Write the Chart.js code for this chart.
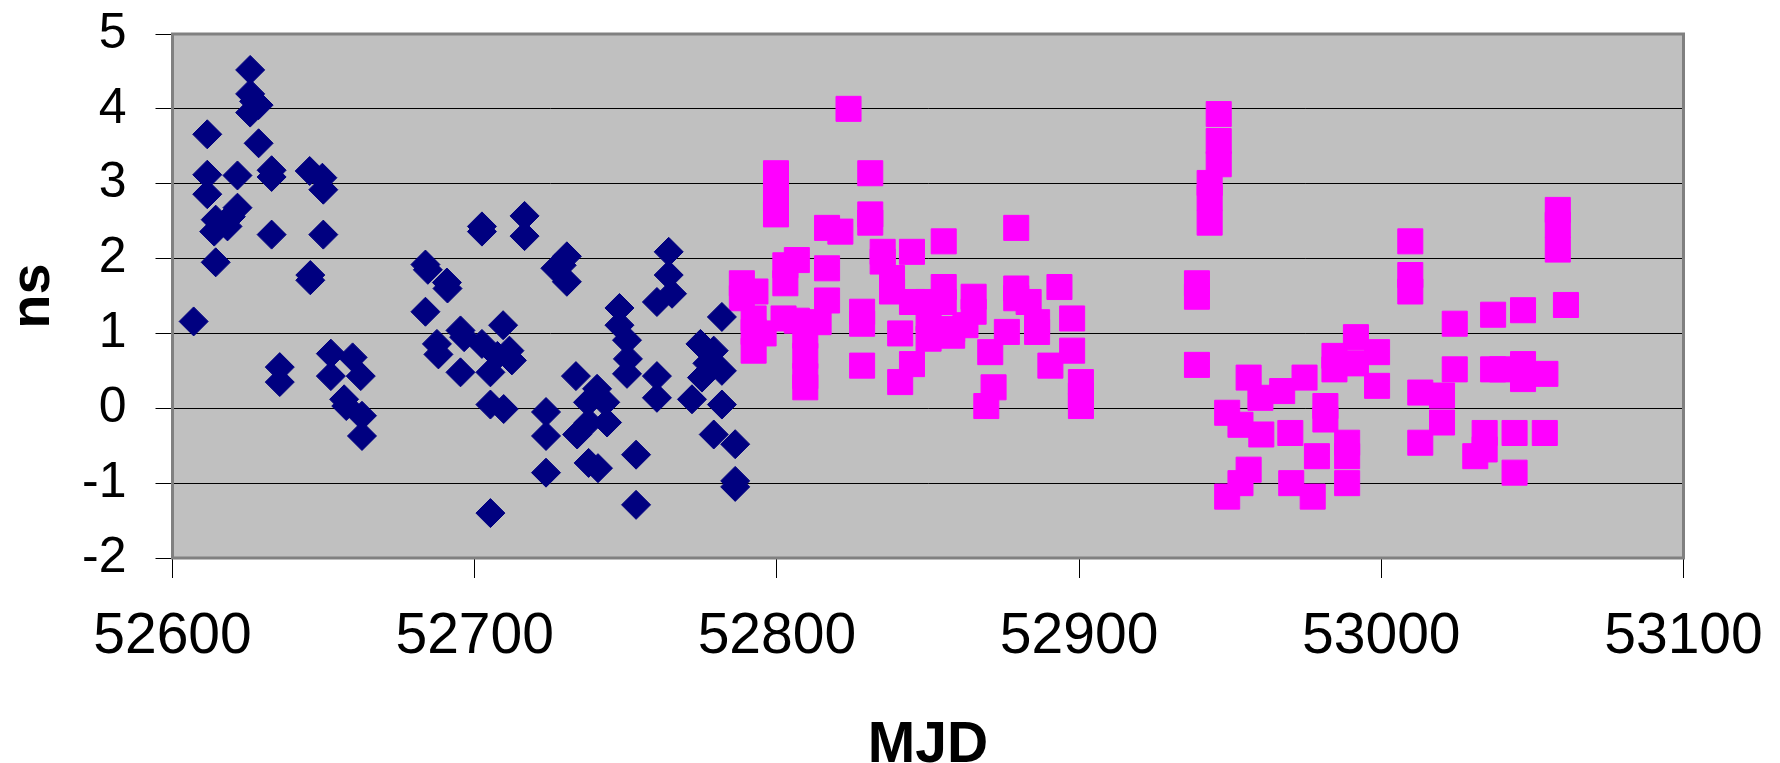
<!DOCTYPE html>
<html>
<head>
<meta charset="utf-8">
<script src="https://cdn.jsdelivr.net/npm/chart.js@4.4.1/dist/chart.umd.min.js"></script>
<style>
  html, body { margin: 0; padding: 0; background: #fff; }
  canvas { display: block; }
</style>
</head>
<body>
<canvas id="myChart" width="1780" height="763"></canvas>
<script>
const xTicks = [52600, 52700, 52800, 52900, 53000, 53100];
const yTicks = [-2, -1, 0, 1, 2, 3, 4, 5];

// NAVY DIAMONDS
const navyMjd = [
  52607, 52611.5, 52611.5, 52611.5, 52614.3, 52613.8, 52618.2, 52621.5, 52619.3, 52614.3,
  52621.5, 52625.7, 52625.7, 52628.5, 52625.7, 52627, 52628.5, 52632.8, 52632.8, 52632.8,
  52645.4, 52649.6, 52649.9, 52649.9, 52645.6, 52645.6, 52635.5, 52635.5, 52652.4, 52652.4,
  52659.6, 52662.3, 52656.8, 52657.5, 52662.7, 52662.7,
  52683.7, 52684.5, 52683.7, 52690.8, 52691, 52687.5, 52688, 52695.3, 52696.5, 52695.3,
  52702.4, 52702.4, 52716.5, 52716.5, 52702.4, 52705.2, 52709.4, 52711.5, 52712.3, 52707.5,
  52705.2, 52709.6, 52705.2, 52726.7, 52730.5, 52730.5, 52728.8, 52723.6, 52723.6, 52723.6,
  52733.5, 52740.5, 52743.2, 52737.5, 52733.9, 52737.7, 52743.8, 52737.7, 52740.8, 52747.9,
  52747.9, 52750.4, 52750.7, 52750.4, 52753.4, 52753.4, 52760.3, 52764.2, 52764.2, 52760.3,
  52760.3, 52765.3, 52781.8, 52774.7, 52779.1, 52781.8, 52775.2, 52771.9, 52777, 52781.8,
  52779.1, 52786.2, 52786.2, 52786.2
];
const navyNs = [
  1.16, 3.66, 3.12, 2.86, 2.52, 2.36, 2.43, 2.68, 2.56, 1.95,
  3.11, 4.52, 4.2, 4.05, 3.95, 4.1, 3.54, 3.18, 3.09, 2.32,
  3.17, 3.08, 2.92, 2.32, 1.78, 1.71, 0.55, 0.35, 0.73, 0.43,
  0.68, 0.43, 0.12, 0.03, -0.1, -0.37,
  1.92, 1.85, 1.29, 1.68, 1.6, 0.86, 0.72, 1.04, 0.95, 0.48,
  2.43, 2.36, 2.57, 2.3, 0.86, 0.48, 1.11, 0.77, 0.64, 0.7,
  0.05, -0.01, -1.4, 1.87, 2.03, 1.69, 1.91, -0.05, -0.37, -0.86,
  0.43, 0.26, 0.08, 0.08, -0.35, -0.19, -0.19, -0.73, -0.8, 1.34,
  1.11, 0.91, 0.66, 0.46, -0.62, -1.29, 1.42, 2.09, 1.78, 0.43,
  0.14, 1.53, 1.22, 0.86, 0.77, 0.5, 0.41, 0.12, 0.6, 0.05,
  -0.35, -0.48, -0.97, -1.05
];

// MAGENTA SQUARES
const pinkMjd = [
  52823.7, 52799.7, 52799.7, 52799.7, 52830.9, 52830.9, 52830.9, 52816.6, 52821, 52835,
  52835, 52844.7, 52838.1, 52838.1, 52788.4, 52788.4, 52792.9, 52806.6, 52802.8, 52802.8,
  52816.6, 52816.6, 52792.3, 52792.3, 52795.6, 52792.3, 52802.2, 52806.6, 52813.8, 52809.4,
  52809.4, 52809.4, 52809.4, 52828.2, 52828.2, 52828.2, 52844.7, 52840.8, 52840.8, 52844.7,
  52855.2, 52855.2, 52855.2, 52865.1, 52865.1, 52850.2, 52850.2, 52850.2, 52858, 52858,
  52862.4, 52870.6, 52876.1, 52871.7, 52869.3, 52879.2, 52879.2, 52879.2, 52883.3, 52886.1,
  52886.1, 52893.5, 52897.7, 52897.7, 52890.5, 52900.6, 52900.6, 52900.6,
  52946.2, 52946.2, 52946.2, 52943.2, 52943.2, 52943.2, 52939, 52939, 52939, 53009.6,
  53009.6, 53009.6, 52949, 52953.4, 52956.1, 52960, 52960.3, 52967.2, 52969.9, 52974.6,
  52981.5, 52981.5, 52978.7, 52988.7, 52988.7, 52984.5, 52984.5, 52991.6, 52991.6, 52998.6,
  52998.6, 52956.1, 52953.4, 52949, 52970.2, 52977.3, 52988.7, 53012.9, 53012.9,
  53020.1, 53020.1, 53024.3, 53024.3, 53034.2, 53034.2, 53031.1, 53037, 53037, 53040,
  53044.1, 53044.1, 53046.9, 53046.9, 53046.9, 53054.3, 53054.1, 53058.4, 53058.4, 53058.4,
  53061.1
];
const pinkNs = [
  4, 3.14, 2.81, 2.59, 3.14, 2.59, 2.48, 2.41, 2.36, 2.09,
  1.96, 2.09, 1.74, 1.56, 1.67, 1.47, 1.56, 1.98, 1.91, 1.67,
  1.87, 1.44, 1.2, 1.02, 1, 0.77, 1.2, 1.17, 1.15, 0.97,
  0.7, 0.43, 0.28, 1.29, 1.13, 0.57, 1.42, 1, 0.35, 0.59,
  2.23, 1.62, 1.42, 1.49, 1.29, 1.42, 1.2, 0.93, 1.06, 0.97,
  1.11, 0.75, 1.02, 0.28, 0.03, 2.41, 1.6, 1.47, 1.42, 1.02,
  1.15, 1.62, 1.2, 0.77, 0.57, 0.35, 0.03, 0.17,
  3.93, 3.57, 3.26, 3.01, 2.81, 2.48, 1.67, 1.49, 0.58, 2.23,
  1.78, 1.56, -0.06, -0.22, 0.41, 0.14, -0.35, 0.23, -0.33, 0.41,
  0.03, -0.15, -0.64, -0.46, -0.64, 0.7, 0.52, 0.95, 0.6, 0.75,
  0.3, -0.82, -1, -1.18, -1, -1.18, -1, 0.21, -0.46,
  0.17, -0.19, 1.13, 0.52, -0.33, -0.55, -0.64, 1.25, 0.52, 0.52,
  -0.33, -0.86, 1.31, 0.59, 0.39, 0.46, -0.33, 2.65, 2.45, 2.12,
  1.38
];

const FONT = "'Liberation Sans', Arial, sans-serif";

const toPoints = (xs, ys) => xs.map((x, i) => ({ x: x, y: ys[i] }));

// GREY PLOT AREA AND FRAME
const plotFrame = {
  id: "plotFrame",
  beforeDraw(chart) {
    const { ctx, chartArea: a } = chart;
    ctx.save();
    ctx.fillStyle = "#c0c0c0";
    ctx.fillRect(a.left, a.top, a.right - a.left, a.bottom - a.top);
    ctx.restore();
  },
  beforeDatasetsDraw(chart) {
    const { ctx, chartArea: a } = chart;
    ctx.save();
    ctx.strokeStyle = "#808080";
    ctx.lineWidth = 3;
    ctx.strokeRect(a.left, a.top, a.right - a.left, a.bottom - a.top);
    ctx.restore();
  },
};

const ctx = document.getElementById("myChart").getContext("2d");
const myChartObj = new Chart(ctx, {
  type: "scatter",
  data: {
    datasets: [
      {
        label: "navy",
        data: toPoints(navyMjd, navyNs),
        pointStyle: "rectRot",
        pointRadius: 14.5,
        backgroundColor: "#000080",
        borderColor: "#000080",
        borderWidth: 1,
      },
      {
        label: "magenta",
        data: toPoints(pinkMjd, pinkNs),
        pointStyle: "rect",
        pointRadius: 17.7,
        backgroundColor: "#ff00ff",
        borderColor: "#ff00ff",
        borderWidth: 1,
      },
    ],
  },
  options: {
    responsive: false,
    animation: false,
    events: [],
    layout: { padding: { left: 0, top: 34, right: 96.5, bottom: 0 } },
    plugins: { legend: { display: false }, tooltip: { enabled: false } },
    scales: {
      x: {
        type: "linear",
        min: xTicks[0],
        max: xTicks[xTicks.length - 1],
        afterBuildTicks: (s) => { s.ticks = xTicks.map((v) => ({ value: v })); },
        afterFit: (s) => {
          s.height = 205;
          s.paddingLeft = 0;
          s.paddingRight = 0;
        },
        border: { display: false },
        grid: { drawOnChartArea: false, color: "#000", lineWidth: 1, tickLength: 20 },
        ticks: {
          autoSkip: false,
          maxRotation: 0,
          padding: 25,
          color: "#000",
          font: { family: FONT, size: 57 },
          callback: (v) => String(v),
        },
        title: {
          display: true,
          text: "MJD",
          color: "#000",
          font: { family: FONT, size: 57, weight: "bold" },
          padding: { top: 0, bottom: -17 },
        },
      },
      y: {
        min: yTicks[0],
        max: yTicks[yTicks.length - 1],
        afterBuildTicks: (s) => { s.ticks = yTicks.map((v) => ({ value: v })); },
        afterFit: (s) => {
          s.width = 172.5;
          s.paddingTop = 0;
          s.paddingBottom = 0;
        },
        border: { display: false },
        grid: { color: "#000", lineWidth: 1, tickLength: 17 },
        ticks: {
          padding: 29,
          color: "#000",
          font: { family: FONT, size: 50 },
          callback: (v) => String(v),
        },
        title: {
          display: true,
          text: "ns",
          color: "#000",
          font: { family: FONT, size: 56, weight: "bold" },
          padding: { top: 0, bottom: 0 },
        },
      },
    },
  },
  plugins: [plotFrame],
});
</script>
</body>
</html>
